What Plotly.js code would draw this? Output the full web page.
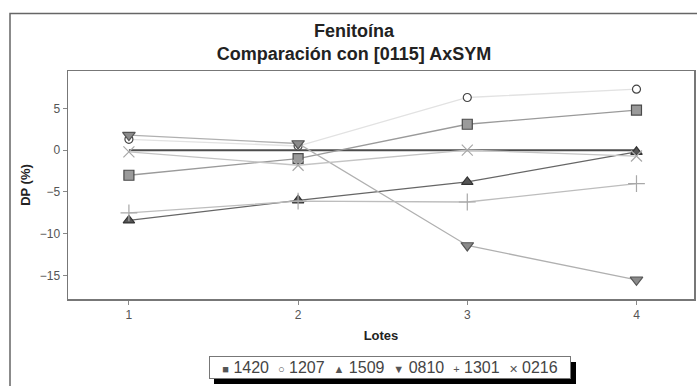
<!DOCTYPE html>
<html>
<head>
<meta charset="utf-8">
<script src="https://cdn.plot.ly/plotly-3.0.1.min.js"></script>
<style>html,body{margin:0;padding:0;background:#fff;}#chart{width:697px;height:386px;}</style>
</head>
<body>
<div id="chart"></div>
<script>
// Data
const lotes = [1, 2, 3, 4];
const seriesNames = ["1420", "1207", "1509", "0810", "1301", "0216"];
const s1420 = [-3.0, -1.0, 3.1, 4.8];
const s1207 = [1.3, 0.5, 6.3, 7.3];
const s1509 = [-8.4, -6.0, -3.8, -0.2];
const s0810 = [1.8, 0.8, -11.4, -15.5];
const s1301 = [-7.5, -6.1, -6.2, -4.0];
const s0216 = [-0.2, -1.8, 0.0, -0.7];
const refLine = [0, 0, 0, 0];
const yTicks = [-15, -10, -5, 0, 5];
const xTicks = [1, 2, 3, 4];
const legendGlyphs = ["\u25A0", "\u25CB", "\u25B2", "\u25BC", "+", "\u2715"];

const styles = [
  {sym: "square", size: 10, fill: "#9a9a9a", edge: "#4a4a4a", line: "#9a9a9a", lw: 1.3},
  {sym: "circle", size: 8, fill: "#ffffff", edge: "#444444", line: "#e2e2e2", lw: 1.3},
  {sym: "triangle-up", size: 10, fill: "#555555", edge: "#333333", line: "#666666", lw: 1.3},
  {sym: "triangle-down", size: 11, fill: "#8a8a8a", edge: "#555555", line: "#b0b0b0", lw: 1.3},
  {sym: "cross-thin-open", size: 12, fill: "#a8a8a8", edge: "#a8a8a8", line: "#bdbdbd", lw: 1.3},
  {sym: "x-thin-open", size: 11, fill: "#a8a8a8", edge: "#a8a8a8", line: "#c4c4c4", lw: 1.3}
];
const allSeries = [s1420, s1207, s1509, s0810, s1301, s0216];

const traces = [{
  x: lotes, y: refLine, mode: "lines", showlegend: false, hoverinfo: "skip",
  line: {color: "#4d4d4d", width: 2}
}];
allSeries.forEach((ys, i) => {
  const st = styles[i];
  traces.push({
    x: lotes, y: ys, name: seriesNames[i], mode: "lines+markers", showlegend: false,
    line: {color: st.line, width: st.lw},
    marker: {symbol: st.sym, size: st.size, color: st.fill, line: {color: st.edge, width: 1.2}}
  });
});

const legendText = seriesNames.map((n, i) =>
  '<span style="font-size:11px;color:#555">' + legendGlyphs[i] + '</span> ' + n
).join('&nbsp; ');

const px = v => (v - 68) / 626;      // page x pixel -> paper
const py = v => (299 - v) / 228.3;   // page y pixel -> paper

const layout = {
  width: 697, height: 386,
  margin: {l: 68, r: 3, t: 70.7, b: 87},
  paper_bgcolor: "#ffffff", plot_bgcolor: "#ffffff",
  font: {family: "Liberation Sans, Arial, sans-serif", color: "#555"},
  title: {
    text: "Fenitoína<br>Comparación con [0115] AxSYM",
    font: {family: "Liberation Sans, Arial", size: 18, color: "#222", weight: "bold"},
    x: px(354), xref: "paper", xanchor: "center", y: 1 - 37/386, yanchor: "top"
  },
  xaxis: {
    range: [0.64, 4.34], tickvals: xTicks, ticktext: xTicks.map(String),
    ticks: "outside", ticklen: 4, tickcolor: "#888", tickfont: {size: 12, color: "#555"},
    showgrid: false, zeroline: false, showline: true, linecolor: "#777", linewidth: 1.5, mirror: true,
    title: {text: "<b>Lotes</b>", font: {size: 13, color: "#222"}, standoff: 10}
  },
  yaxis: {
    range: [-17.8, 9.47], tickvals: yTicks,
    ticks: "outside", ticklen: 4, tickcolor: "#888", tickfont: {size: 12, color: "#555"},
    showgrid: false, zeroline: false, showline: true, linecolor: "#777", linewidth: 1.5, mirror: true,
    title: {text: "<b>DP (%)</b>", font: {size: 13, color: "#222"}, standoff: 6}
  },
  shapes: [
    {type: "rect", xref: "paper", yref: "paper", x0: px(10), x1: px(705), y0: py(395), y1: py(13),
     line: {color: "#666", width: 1.5}, fillcolor: "rgba(0,0,0,0)", layer: "below"},
    {type: "rect", xref: "paper", yref: "paper", x0: px(214), x1: px(576), y0: py(384), y1: py(362),
     line: {width: 0}, fillcolor: "#000", layer: "above"}
  ],
  annotations: [{
    xref: "paper", yref: "paper", x: px(390), y: py(368), xanchor: "center", yanchor: "middle",
    text: legendText, showarrow: false, font: {size: 16, color: "#444"},
    bgcolor: "#ffffff", bordercolor: "#777", borderwidth: 1, borderpad: 1,
    width: 358, height: 19
  }]
};

Plotly.newPlot("chart", traces, layout, {staticPlot: true, displayModeBar: false});
</script>
</body>
</html>
